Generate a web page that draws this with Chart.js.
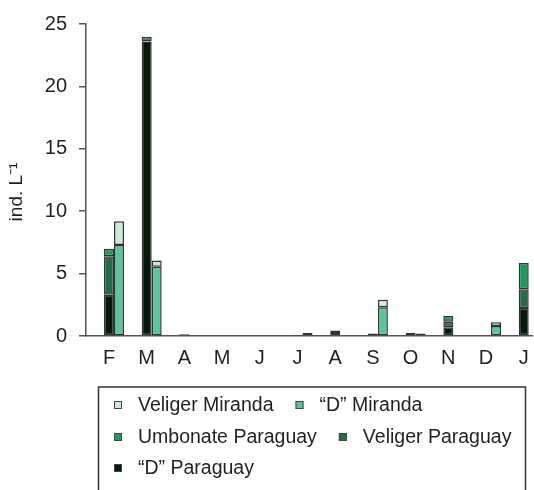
<!DOCTYPE html>
<html><head><meta charset="utf-8">
<script src="https://cdn.jsdelivr.net/npm/chart.js@4.4.1/dist/chart.umd.min.js"></script>
<style>html,body{margin:0;padding:0;background:#fff;overflow:hidden}canvas{display:block}</style>
</head><body>
<canvas id="c" width="534" height="490"></canvas>
<script>
// ---- data ----
const months = ['F','M','A','M','J','J','A','S','O','N','D','J'];
const dParaguay        = [3.3, 23.6, 0.15, null, null, 0.1, 0.25, null, null, 0.7, null, 2.25];
const veligerParaguay  = [3.1, null, null, null, null, null, null, 0.2, null, 0.45, null, 1.5];
const umbonateParaguay = [0.6, 0.35, null, null, null, null, 0.2, null, 0.25, 0.45, null, 2.1];
const dMiranda         = [7.3, 5.55, null, null, null, 0.25, null, 2.3, 0.2, null, 0.8, null];
const veligerMiranda   = [1.9, 0.5, null, null, null, null, null, 0.6, null, null, 0.3, null];
const yTicks = [0, 5, 10, 15, 20, 25];
const yTitle = 'ind. L\u207B\u00B9';

const FONT = "'Liberation Sans', Arial, Helvetica, sans-serif";
const TEXT = '#231f20';
const pts = arr => arr.map((v, i) => ({x: i + 1, y: v}));

function ds(label, arr, color, stack) {
  return {label, data: pts(arr), backgroundColor: color, borderColor: '#333',
    borderWidth: 1.5, borderSkipped: false, stack,
    barPercentage: 1, categoryPercentage: 0.53};
}

const legendPlugin = {
  id: 'boxLegend',
  afterDraw(chart) {
    const ctx = chart.ctx;
    ctx.save();
    // y-axis title
    ctx.fillStyle = TEXT;
    ctx.font = '19px ' + FONT;
    ctx.textAlign = 'center';
    ctx.textBaseline = 'middle';
    ctx.translate(17, 192);
    ctx.rotate(-Math.PI / 2);
    ctx.fillText(yTitle, 0, 0);
    ctx.setTransform(1, 0, 0, 1, 0, 0);
    // legend box
    ctx.textAlign = 'left';
    ctx.strokeStyle = '#333'; ctx.lineWidth = 1.5;
    ctx.strokeRect(98.5, 387, 427, 130);
    const items = chart.data.datasets.slice().reverse();
    const rows = [[0, 1], [2, 3], [4]];
    const rowY = [405, 437, 468];
    ctx.font = '19.5px ' + FONT;
    rows.forEach((r, ri) => {
      let x = 114;
      r.forEach(k => {
        const d = items[k];
        const y = rowY[ri];
        ctx.fillStyle = d.backgroundColor;
        ctx.fillRect(x, y - 4, 8, 8);
        ctx.strokeStyle = '#444'; ctx.lineWidth = 1;
        ctx.strokeRect(x + 0.5, y - 3.5, 7, 7);
        ctx.fillStyle = TEXT;
        ctx.fillText(d.label, x + 24, y + 1);
        x += 24 + ctx.measureText(d.label).width + 22;
      });
    });
    ctx.restore();
  }
};

new Chart(document.getElementById('c'), {
  type: 'bar',
  data: {
    datasets: [
      ds('\u201CD\u201D Paraguay', dParaguay, '#04190c', 'P'),
      ds('Veliger Paraguay', veligerParaguay, '#236c49', 'P'),
      ds('Umbonate Paraguay', umbonateParaguay, '#1d9a5b', 'P'),
      ds('\u201CD\u201D Miranda', dMiranda, '#5ec49a', 'M'),
      ds('Veliger Miranda', veligerMiranda, '#cfe9d7', 'M')
    ]
  },
  options: {
    responsive: false, animation: false,
    layout: {padding: {top: 20, right: 2, left: 0, bottom: 0}},
    plugins: {legend: {display: false}, tooltip: {enabled: false}},
    scales: {
      x: {
        type: 'linear', stacked: true, offset: false, min: 0.2573, max: 12.087,
        afterBuildTicks: s => { s.ticks = months.map((m, i) => ({value: i + 1})); },
        afterFit: s => { s.height = 154; s.paddingLeft = 0; s.paddingRight = 0; },
        grid: {display: true, offset: false, drawOnChartArea: false, drawTicks: false},
        border: {display: true, color: '#555', width: 1.5},
        ticks: {autoSkip: false, maxRotation: 0, padding: 10, labelOffset: -5,
          color: TEXT, font: {size: 20, family: FONT},
          callback: (v, i) => months[i]}
      },
      y: {
        stacked: true, min: 0, max: 25,
        afterBuildTicks: s => { s.ticks = yTicks.map(v => ({value: v})); },
        afterFit: s => { s.width = 86; },
        grid: {display: true, drawOnChartArea: false, drawTicks: true, tickLength: 7, color: '#555', lineWidth: 1.5},
        border: {display: true, color: '#555', width: 1.5},
        ticks: {padding: 12, color: TEXT, font: {size: 20, family: FONT}},
        title: {display: false, text: yTitle}
      }
    }
  },
  plugins: [legendPlugin]
});
</script>
</body></html>
